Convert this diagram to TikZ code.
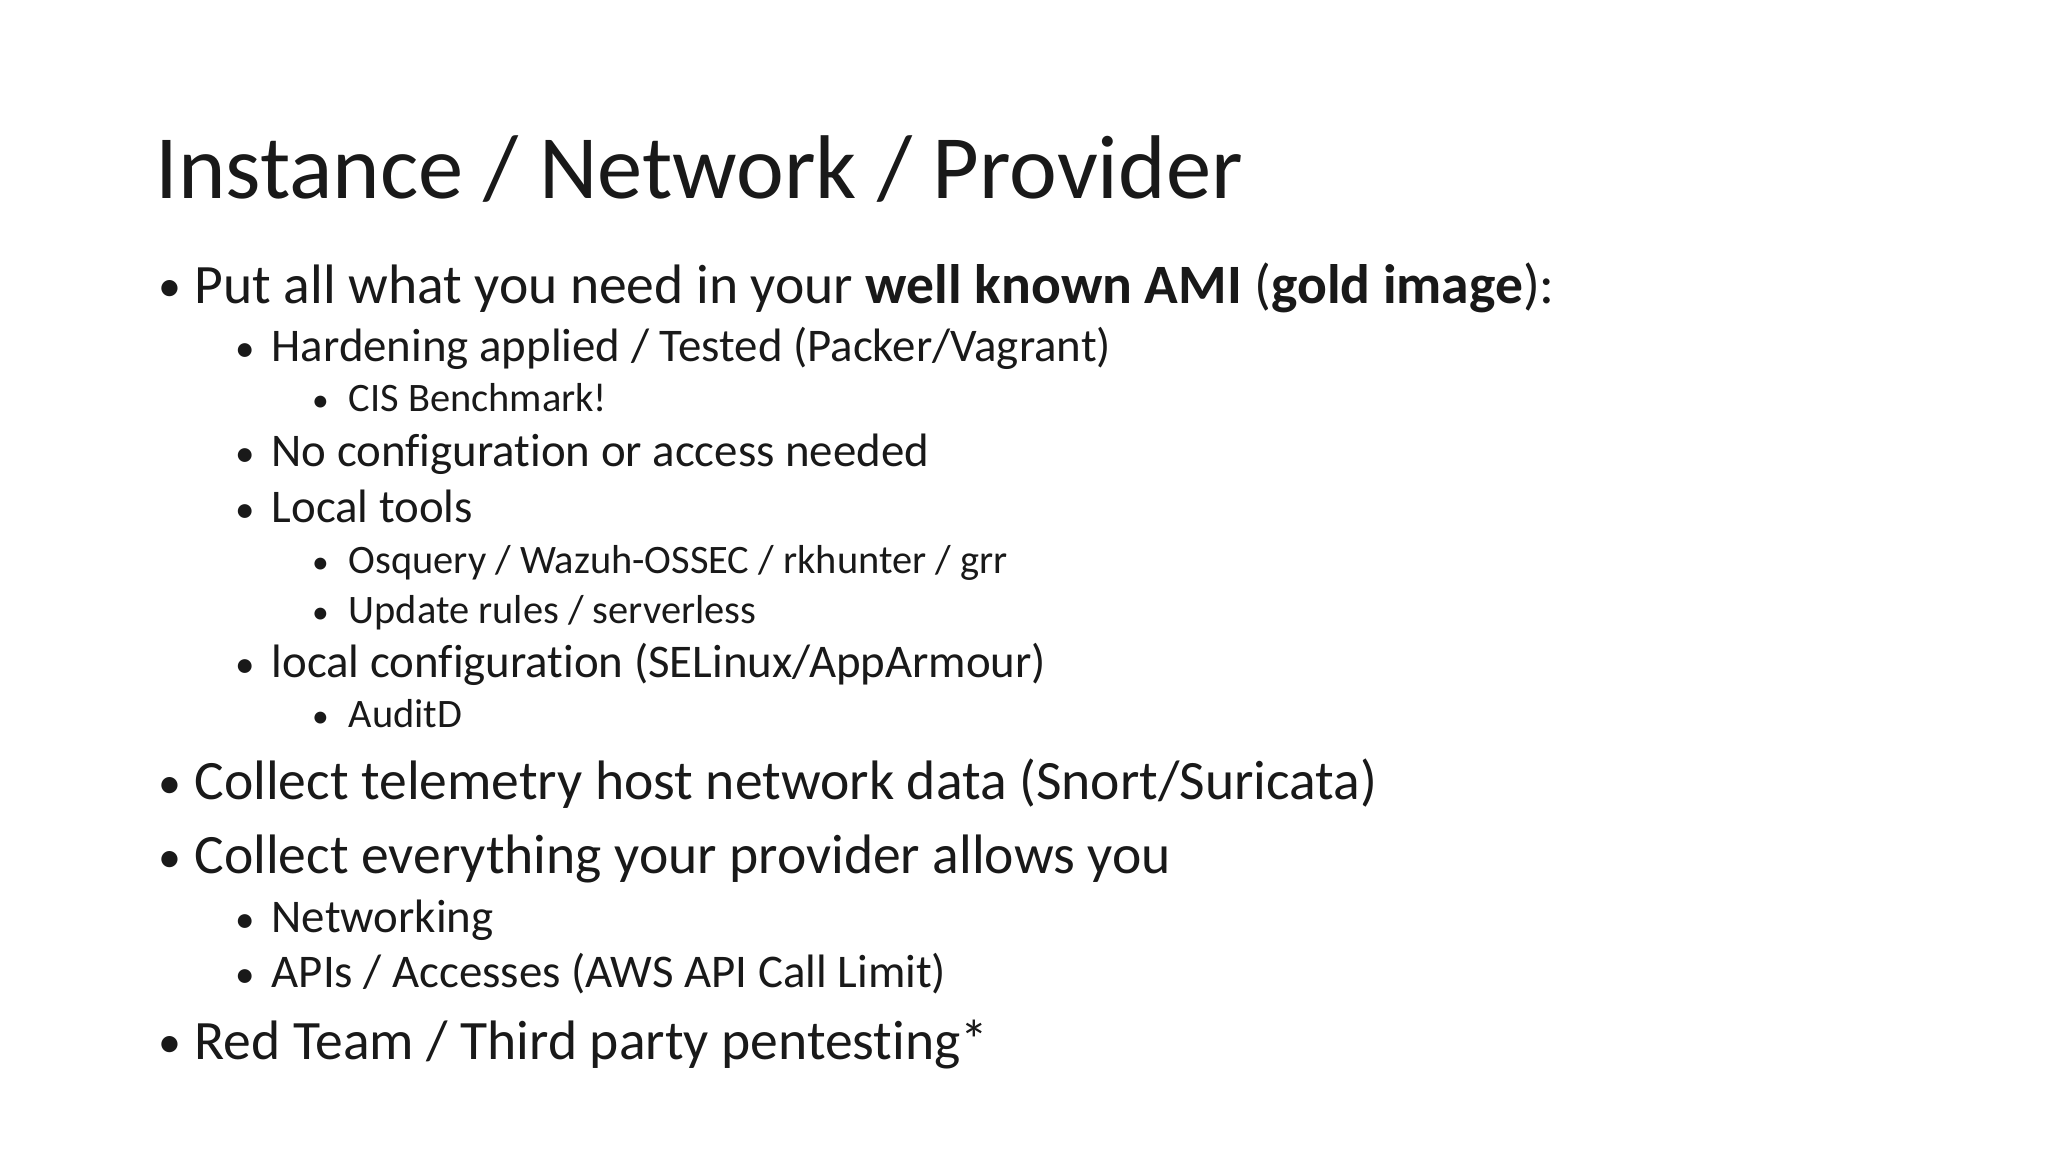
\documentclass[tikz,border=0pt]{standalone}
\usepackage{fontspec}
\setmainfont[Ligatures=NoCommon]{Carlito}
\begin{document}
\begin{tikzpicture}[x=0.01cm,y=-0.01cm,
  every node/.style={inner sep=0pt,outer sep=0pt,anchor=base west,text=black!90},
  ttl/.style={font=\fontsize{19.7}{24}\selectfont},
  la/.style={font=\fontsize{12.1}{15}\selectfont},
  lb/.style={font=\fontsize{10.2}{13}\selectfont},
  lc/.style={font=\fontsize{8.8}{11}\selectfont},
  ba/.style={font=\fontsize{10}{12}\selectfont},
  bb/.style={font=\fontsize{8.5}{10}\selectfont},
  bc/.style={font=\fontsize{7.3}{9}\selectfont}]
\useasboundingbox[fill=white] (0,0) rectangle (1568,882);
\node[ttl] (title) at (119,152) {Instance / Network / Provider};
\node[ba] (b1) at (121,231) {•}; \node[la] (t1) at (149,232) {Put all what you need in your \textbf{well known AMI} (\textbf{gold image}):};
\node[bb] (b2) at (180,277) {•}; \node[lb] (t2) at (208,277) {Hardening applied / Tested (Packer/Vagrant)};
\node[bc] (b3) at (239,315) {•}; \node[lc] (t3) at (267,315) {CIS Benchmark!};
\node[bb] (b4) at (180,357) {•}; \node[lb] (t4) at (208,357) {No configuration or access needed};
\node[bb] (b5) at (180,400) {•}; \node[lb] (t5) at (208,400) {Local tools};
\node[bc] (b6) at (239,439) {•}; \node[lc] (t6) at (267,439) {Osquery / Wazuh-OSSEC / rkhunter / grr};
\node[bc] (b7) at (239,477) {•}; \node[lc] (t7) at (267,477) {Update rules / serverless};
\node[bb] (b8) at (180,519) {•}; \node[lb] (t8) at (208,519) {local configuration (SELinux/AppArmour)};
\node[bc] (b9) at (239,557) {•}; \node[lc] (t9) at (267,557) {AuditD};
\node[ba] (b10) at (121,611) {•}; \node[la] (t10) at (149,612) {Collect telemetry host network data (Snort/Suricata)};
\node[ba] (b11) at (121,668) {•}; \node[la] (t11) at (149,669) {Collect everything your provider allows you};
\node[bb] (b12) at (180,714) {•}; \node[lb] (t12) at (208,714) {Networking};
\node[bb] (b13) at (180,756) {•}; \node[lb] (t13) at (208,756) {APIs / Accesses (AWS API Call Limit)};
\node[ba] (b14) at (121,810) {•}; \node[la] (t14) at (149,811) {Red Team / Third party pentesting*};
\end{tikzpicture}
\end{document}
